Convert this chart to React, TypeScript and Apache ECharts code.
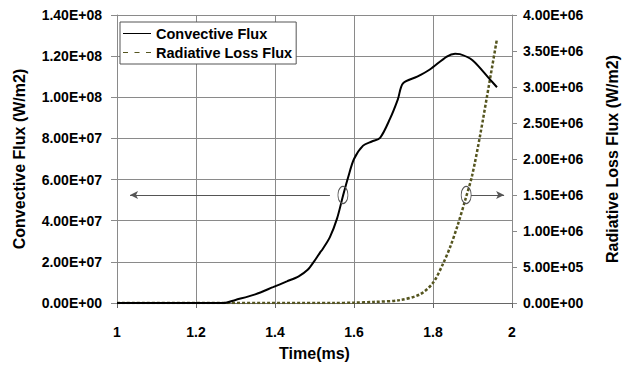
import React, { useEffect, useRef } from "react";
import * as echarts from "echarts";

// Time (ms) and convective heat flux (W/m2)
const convTime = [1.0, 1.27, 1.3, 1.35, 1.395, 1.43, 1.46, 1.482, 1.5, 1.514, 1.52, 1.539, 1.557, 1.572, 1.585, 1.6, 1.623, 1.645, 1.666, 1.691, 1.711, 1.724, 1.76, 1.792, 1.835, 1.856, 1.868, 1.9, 1.944, 1.962];
const convFlux = [0, 0, 1.5e6, 4.2e6, 7.7e6, 1.05e7, 1.3e7, 1.6e7, 2.05e7, 2.45e7, 2.6e7, 3.2e7, 4.1e7, 5.2e7, 6.1e7, 7.0e7, 7.65e7, 7.85e7, 8.03e7, 8.95e7, 9.9e7, 1.068e8, 1.1e8, 1.135e8, 1.198e8, 1.212e8, 1.21e8, 1.18e8, 1.087e8, 1.049e8];

// Time (ms) and radiative loss flux (W/m2)
const radTime = [1.0, 1.55, 1.6, 1.65, 1.716, 1.767, 1.8, 1.825, 1.845, 1.863, 1.881, 1.899, 1.919, 1.944, 1.962];
const radFlux = [0, 0, 5e3, 1.5e4, 4e4, 1.2e5, 2.8e5, 5.4e5, 8e5, 1.09e6, 1.42e6, 1.77e6, 2.32e6, 3.1e6, 3.67e6];

// Annotation: ellipses on each curve with arrows pointing to their axes
const markerLevel = 1.5e6;
const convMarkerTime = 1.572;
const radMarkerTime = 1.884;

const FONT = "'Liberation Sans', Arial, sans-serif";

// Legend samples: a solid stroke and a three-dash stroke
const solidIcon = "path://M0,0h28v1h-28z";
const dashIcon = "path://M0,0h5v1h-5z M11.5,0h5v1h-5z M23,0h5v1h-5z";

function sci(v: number): string {
  const [m, e] = v.toExponential(2).split("e");
  const n = parseInt(e, 10);
  const sign = n < 0 ? "-" : "+";
  return m + "E" + sign + String(Math.abs(n)).padStart(2, "0");
}

export default function App() {
  const ref = useRef<HTMLDivElement>(null);

  useEffect(() => {
    if (!ref.current) return;
    const chart = echarts.init(ref.current, undefined, { renderer: "svg" });
    const gridColor = "#8a8a8a";
    const labelStyle = { color: "#000", fontSize: 14, fontWeight: "bold" as const, fontFamily: FONT };
    const nameStyle = { color: "#000", fontSize: 16, fontWeight: "bold" as const, fontFamily: FONT };

    chart.setOption({
      animation: false,
      backgroundColor: "#fff",
      grid: { left: 117, right: 118, top: 15, bottom: 60 },
      legend: {
        orient: "vertical",
        left: 120,
        top: 22,
        padding: [4, 4, 4, 3],
        itemWidth: 28,
        itemHeight: 2,
        itemGap: 4,
        backgroundColor: "#fff",
        borderColor: "#555",
        borderWidth: 1,
        itemStyle: { borderWidth: 0 },
        textStyle: { color: "#000", fontSize: 14.5, fontWeight: "bold", fontFamily: FONT },
        data: [
          { name: "Convective Flux", icon: solidIcon },
          { name: "Radiative Loss Flux", icon: dashIcon },
        ],
      },
      xAxis: {
        type: "value",
        min: 1,
        max: 2,
        interval: 0.2,
        name: "Time(ms)",
        nameLocation: "middle",
        nameGap: 42,
        nameTextStyle: nameStyle,
        axisLine: { lineStyle: { color: "#666", width: 1 } },
        axisTick: { show: true, length: 5, lineStyle: { color: "#666" } },
        axisLabel: { ...labelStyle, margin: 22 },
        splitLine: { show: true, lineStyle: { color: gridColor, width: 1 } },
      },
      yAxis: [
        {
          type: "value",
          min: 0,
          max: 1.4e8,
          interval: 2e7,
          name: "Convective Flux (W/m2)",
          nameLocation: "middle",
          nameRotate: 90,
          nameGap: 90,
          nameTextStyle: nameStyle,
          axisLine: { show: true, lineStyle: { color: gridColor } },
          axisTick: { show: true, length: 6, lineStyle: { color: gridColor } },
          axisLabel: { ...labelStyle, margin: 15, formatter: (v: number) => sci(v) },
          splitLine: { show: true, lineStyle: { color: gridColor, width: 1 } },
        },
        {
          type: "value",
          min: 0,
          max: 4e6,
          interval: 5e5,
          position: "right",
          name: "Radiative Loss Flux (W/m2)",
          nameLocation: "middle",
          nameRotate: 90,
          nameGap: 92,
          nameTextStyle: nameStyle,
          axisLine: { show: true, lineStyle: { color: gridColor } },
          axisTick: { show: true, length: 5, lineStyle: { color: gridColor } },
          axisLabel: { ...labelStyle, margin: 11, formatter: (v: number) => sci(v) },
          splitLine: { show: false },
        },
      ],
      series: [
        {
          name: "Radiative Loss Flux",
          type: "line",
          yAxisIndex: 1,
          symbol: "none",
          smooth: 0.3,
          z: 2,
          data: radTime.map((t, i) => [t, radFlux[i]]),
          lineStyle: { color: "#55551f", width: 2.5, type: [3, 2] },
          itemStyle: { color: "#55551f" },
          markLine: {
            silent: true,
            symbol: ["none", "arrow"],
            symbolSize: [6, 8],
            label: { show: false },
            lineStyle: { color: "#555", width: 1, type: "solid" },
            data: [
              [{ coord: [convMarkerTime - 0.033, markerLevel] }, { coord: [1.033, markerLevel] }],
              [{ coord: [radMarkerTime + 0.012, markerLevel] }, { coord: [1.98, markerLevel] }],
            ],
          },
          markPoint: {
            silent: true,
            symbol: "circle",
            symbolSize: [10, 17],
            label: { show: false },
            itemStyle: { color: "rgba(0,0,0,0)", borderColor: "#555", borderWidth: 1 },
            data: [{ coord: [convMarkerTime, markerLevel] }, { coord: [radMarkerTime, markerLevel] }],
          },
        },
        {
          name: "Convective Flux",
          type: "line",
          yAxisIndex: 0,
          symbol: "none",
          smooth: 0.3,
          z: 3,
          data: convTime.map((t, i) => [t, convFlux[i]]),
          lineStyle: { color: "#000", width: 2 },
          itemStyle: { color: "#000" },
        },
      ],
    });

    return () => chart.dispose();
  }, []);

  return (
    <div
      ref={ref}
      style={{ position: "fixed", left: 0, top: 0, width: 630, height: 366, background: "#fff" }}
    />
  );
}
